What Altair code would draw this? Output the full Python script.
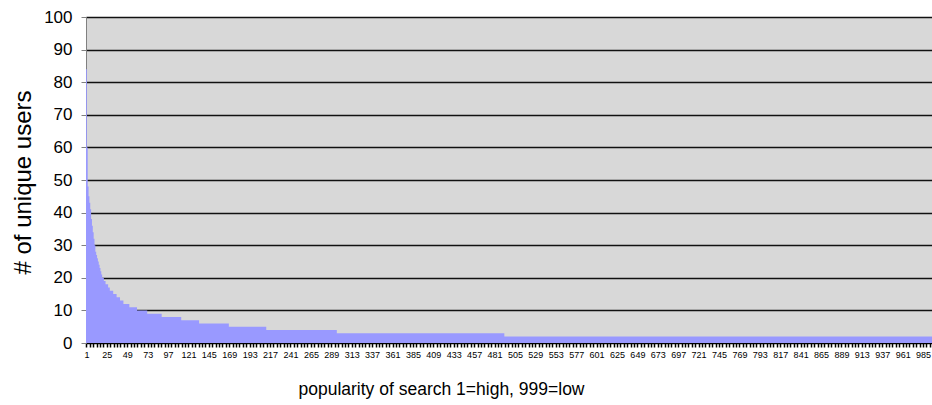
import altair as alt
import pandas as pd

# Users per search for the most popular searches (rank 1..60)
head_values = [84, 60, 48, 45, 43, 41, 38, 36, 34, 32, 30, 28, 27, 26, 25, 24, 23, 22, 21, 20,
               20, 19, 19, 18, 18, 18, 17, 17, 16, 16, 16, 16, 15, 15, 15, 15, 14, 14, 14, 14,
               13, 13, 13, 13, 12, 12, 12, 12, 12, 12, 12, 11, 11, 11, 11, 11, 11, 11, 11, 11]
# Long tail plateaus: level and how many searches sit on it
tail_levels = [10, 9, 8, 7, 6, 5, 4, 3, 2]
tail_counts = [12, 17, 23, 21, 35, 44, 83, 197, 507]

users = list(head_values)
for lvl, cnt in zip(tail_levels, tail_counts):
    users += [lvl] * cnt
ranks = list(range(1, len(users) + 1))

df = pd.DataFrame({"rank": ranks, "users": users})

x_tick_values = list(range(1, 996, 4))
y_tick_values = list(range(0, 101, 10))

chart = (
    alt.Chart(df)
    .transform_calculate(start="datum.rank - 0.5")
    .mark_area(interpolate="step-after", color="#9999FF", clip=True)
    .encode(
        x=alt.X(
            "start:Q",
            scale=alt.Scale(domain=[0.5, 995.5], nice=False, zero=False),
            axis=alt.Axis(
                values=x_tick_values,
                labelExpr="(datum.value - 1) % 24 == 0 ? datum.value : ''",
                labelOverlap=False,
                labelFlush=False,
                labelFontSize=9,
                labelColor="#000000",
                labelPadding=3,
                tickSize=4,
                tickWidth=1.5,
                tickColor="#000000",
                domainColor="#000000",
                domainWidth=1,
                grid=False,
                title="popularity of search 1=high, 999=low",
                titleFontSize=17.5,
                titleFontWeight="normal",
                titleColor="#000000",
                titleX=355,
                titleY=51,
                titleAlign="center",
                titleBaseline="alphabetic",
            ),
        ),
        y=alt.Y(
            "users:Q",
            scale=alt.Scale(domain=[0, 100], nice=False),
            axis=alt.Axis(
                values=y_tick_values,
                grid=True,
                gridColor="#111111",
                gridWidth=1.6,
                domainColor="#808080",
                tickColor="#808080",
                tickSize=5,
                labelPadding=9,
                labelFontSize=17,
                labelColor="#000000",
                title="# of unique users",
                titleFontSize=24,
                titleFontWeight="normal",
                titleColor="#000000",
                titleX=-56,
                titleY=165,
                titleAlign="center",
                titleBaseline="alphabetic",
                titleAngle=270,
            ),
        ),
    )
    .properties(
        width=846,
        height=326,
        padding={"left": 86, "top": 17, "right": 0, "bottom": 62},
        autosize=alt.AutoSizeParams(type="none"),
    )
    .configure(font="Liberation Sans", background="#FFFFFF")
    .configure_view(fill="#D8D8D8", stroke=None)
)

chart.save("out.html", embed_options={"renderer": "svg", "actions": False})
